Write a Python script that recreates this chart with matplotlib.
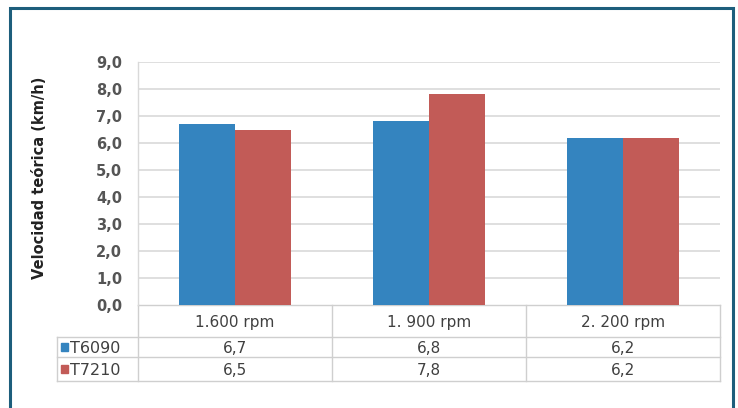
import matplotlib
matplotlib.use("Agg")
import matplotlib.pyplot as plt
from matplotlib.lines import Line2D
from matplotlib.patches import Rectangle
import numpy as np

categories = ["1.600 rpm", "1. 900 rpm", "2. 200 rpm"]
series_names = ["T6090", "T7210"]
t6090 = [6.7, 6.8, 6.2]
t7210 = [6.5, 7.8, 6.2]
yticks = [0, 1, 2, 3, 4, 5, 6, 7, 8, 9]

BLUE = "#3484bf"
RED = "#c25b57"
TXT = "#404040"
GRID = "#d9d9d9"
FRAME = "#1d5e7c"

W, H = 738, 408
fig = plt.figure(figsize=(W / 100, H / 100), dpi=100)

# plot area in pixel coords (from top-left)
px_l, px_r, px_t, px_b = 138, 720, 62, 305
ax = fig.add_axes([px_l / W, 1 - px_b / H, (px_r - px_l) / W, (px_b - px_t) / H])

x = np.arange(len(categories))
bw = 0.29
ax.bar(x - bw / 2, t6090, bw, color=BLUE, zorder=3)
ax.bar(x + bw / 2, t7210, bw, color=RED, zorder=3)

ax.set_xlim(-0.5, len(categories) - 0.5)
ax.set_ylim(0, 9)
ax.set_yticks(yticks)
ax.set_yticklabels([f"{v:.1f}".replace(".", ",") for v in yticks],
                   fontsize=10.5, color="#555555", fontweight="bold")
ax.tick_params(axis="y", length=0, pad=11.5)
ax.set_xticks([])
for v in yticks[1:]:
    ax.axhline(v, color=GRID, linewidth=1.2, zorder=1)
for s in ["top", "right", "bottom"]:
    ax.spines[s].set_visible(False)
ax.spines["left"].set_color(GRID)
ax.spines["left"].set_linewidth(1.0)

fig.text(40 / W, 1 - 178 / H, "Velocidad teórica (km/h)", rotation=90,
         fontsize=10.5, fontweight="bold", color="#222222",
         ha="center", va="center")

# data table below the axes, in pixel coords converted to axes fraction
def ax_x(px):
    return (px - px_l) / (px_r - px_l)

def ax_y(py):
    return (px_b - py) / (px_b - px_t)

row_lines = [305, 337, 357, 381]
tab_left = 57
col_edges = [i / len(categories) for i in range(len(categories) + 1)]
line_kw = dict(color="#cfcfcf", linewidth=1.0, transform=ax.transAxes, clip_on=False)

ax.add_line(Line2D([0, 1], [ax_y(305)] * 2, **line_kw))
for r in row_lines[1:]:
    ax.add_line(Line2D([ax_x(tab_left), 1], [ax_y(r)] * 2, **line_kw))
for c in col_edges:
    ax.add_line(Line2D([c, c], [ax_y(305), ax_y(381)], **line_kw))
ax.add_line(Line2D([ax_x(tab_left)] * 2, [ax_y(337), ax_y(381)], **line_kw))

row_mid = [(row_lines[i] + row_lines[i + 1]) / 2 for i in range(3)]
for i, cat in enumerate(categories):
    cx = (col_edges[i] + col_edges[i + 1]) / 2
    ax.text(cx, ax_y(row_mid[0]), cat, transform=ax.transAxes, ha="center",
            va="center_baseline", fontsize=11, color=TXT)
    for j, vals in enumerate([t6090, t7210]):
        ax.text(cx, ax_y(row_mid[j + 1]), f"{vals[i]:.1f}".replace(".", ","),
                transform=ax.transAxes, ha="center", va="center_baseline",
                fontsize=11, color=TXT)

for j, (name, col) in enumerate(zip(series_names, [BLUE, RED])):
    yc = ax_y(row_mid[j + 1])
    ax.add_patch(Rectangle((ax_x(61), yc - 0.018), ax_x(68) - ax_x(61), 0.033,
                           transform=ax.transAxes, color=col, clip_on=False))
    ax.text(ax_x(70), yc, name, transform=ax.transAxes, ha="left",
            va="center_baseline", fontsize=11.5, color=TXT)

# outer frame
fig.add_artist(Rectangle((10 / W, -0.05), (733 - 10) / W, 1.05 - 8 / H,
                         transform=fig.transFigure, fill=False,
                         edgecolor=FRAME, linewidth=2.2))

fig.savefig("out.png", dpi=100)
